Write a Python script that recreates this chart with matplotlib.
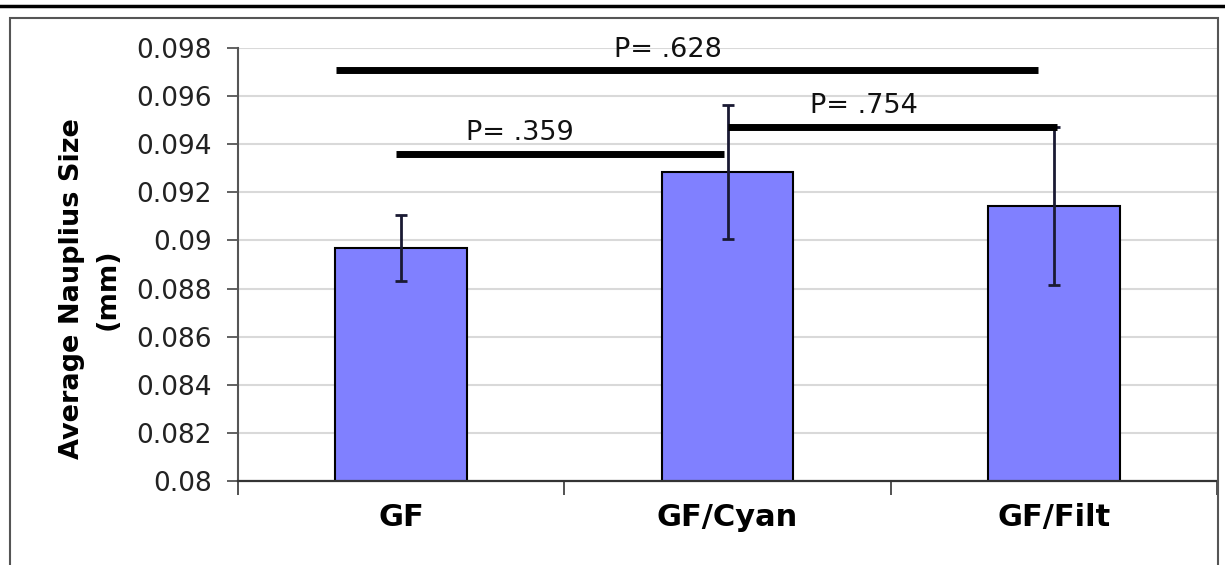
import matplotlib
matplotlib.use("Agg")
import matplotlib.pyplot as plt
from matplotlib.patches import Rectangle
from matplotlib.lines import Line2D

# data
groups = ["GF", "GF/Cyan", "GF/Filt"]
means = [0.08968, 0.09285, 0.09143]
errors = [0.00137, 0.00277, 0.00328]

ytick_vals = [0.08, 0.082, 0.084, 0.086, 0.088, 0.09, 0.092, 0.094, 0.096, 0.098]
ytick_labels = ["0.08", "0.082", "0.084", "0.086", "0.088", "0.09", "0.092", "0.094", "0.096", "0.098"]

# significance brackets: (x start, x end, height), label and where it sits
sig_x0 = [-0.2, -0.015, 1.0]
sig_x1 = [1.95, 0.99, 2.01]
sig_y = [0.09709, 0.09358, 0.09472]
sig_text = ["P= .628", "P= .359", "P= .754"]
sig_tx = [0.819, 0.363, 1.417]
sig_ty = [0.09763, 0.09418, 0.09530]

fig = plt.figure(figsize=(12.25, 5.65), dpi=100)
ax = fig.add_axes([238 / 1225, 1 - 481 / 565, (1217 - 238) / 1225, (481 - 48) / 565])

x = list(range(len(groups)))
ax.bar(x, means, width=0.404, color="#8080ff", edgecolor="black", linewidth=1.5, zorder=2)
ax.errorbar(x, means, yerr=errors, fmt="none", ecolor="#1a1a33", elinewidth=2,
            capsize=4.5, capthick=2, zorder=3)

for x0, x1, y in zip(sig_x0, sig_x1, sig_y):
    ax.plot([x0, x1], [y, y], color="black", lw=5, solid_capstyle="butt", zorder=4)
for t, tx, ty in zip(sig_text, sig_tx, sig_ty):
    ax.text(tx, ty, t, ha="center", va="baseline", fontsize=19.5, family="DejaVu Sans",
            color="#111111", zorder=5, clip_on=False)

ax.set_xlim(-0.5, 2.5)
ax.set_ylim(0.08, 0.098)
ax.set_yticks(ytick_vals)
ax.set_yticklabels(ytick_labels)
ax.set_xticks(x)
ax.set_xticklabels(groups, fontsize=22, fontweight="bold")
ax.set_xticks([-0.5, 0.5, 1.5, 2.5], minor=True)
ax.tick_params(axis="x", which="major", length=0, pad=16)
ax.tick_params(axis="x", which="minor", length=10, width=1.3, color="#444444", direction="out")
ax.tick_params(axis="y", length=8, width=1.3, color="#555555", pad=11, labelsize=19,
               labelcolor="#222222")

ax.yaxis.grid(True, color="#d9d9d9", lw=1.5, zorder=0)
ax.set_axisbelow(True)
for s in ["top", "right"]:
    ax.spines[s].set_visible(False)
ax.spines["left"].set_color("#555555")
ax.spines["left"].set_linewidth(1.5)
ax.spines["bottom"].set_color("#333333")
ax.spines["bottom"].set_linewidth(1.6)

fig.text(90 / 1225, 1 - 289 / 565, "Average Nauplius Size\n(mm)", rotation=90,
         ha="center", va="center", fontsize=19.5, fontweight="bold",
         multialignment="center", linespacing=1.5)

# chart frame and the rule above it
fig.add_artist(Rectangle((10 / 1225, -0.05), (1218 - 10) / 1225, 1 - 18 / 565 + 0.05,
                         transform=fig.transFigure, fill=False, edgecolor="#555555", lw=1.5))
fig.add_artist(Line2D([0, 1], [1 - 5.5 / 565] * 2, transform=fig.transFigure,
                      color="black", lw=2.5))

fig.savefig("out.png", dpi=100)
